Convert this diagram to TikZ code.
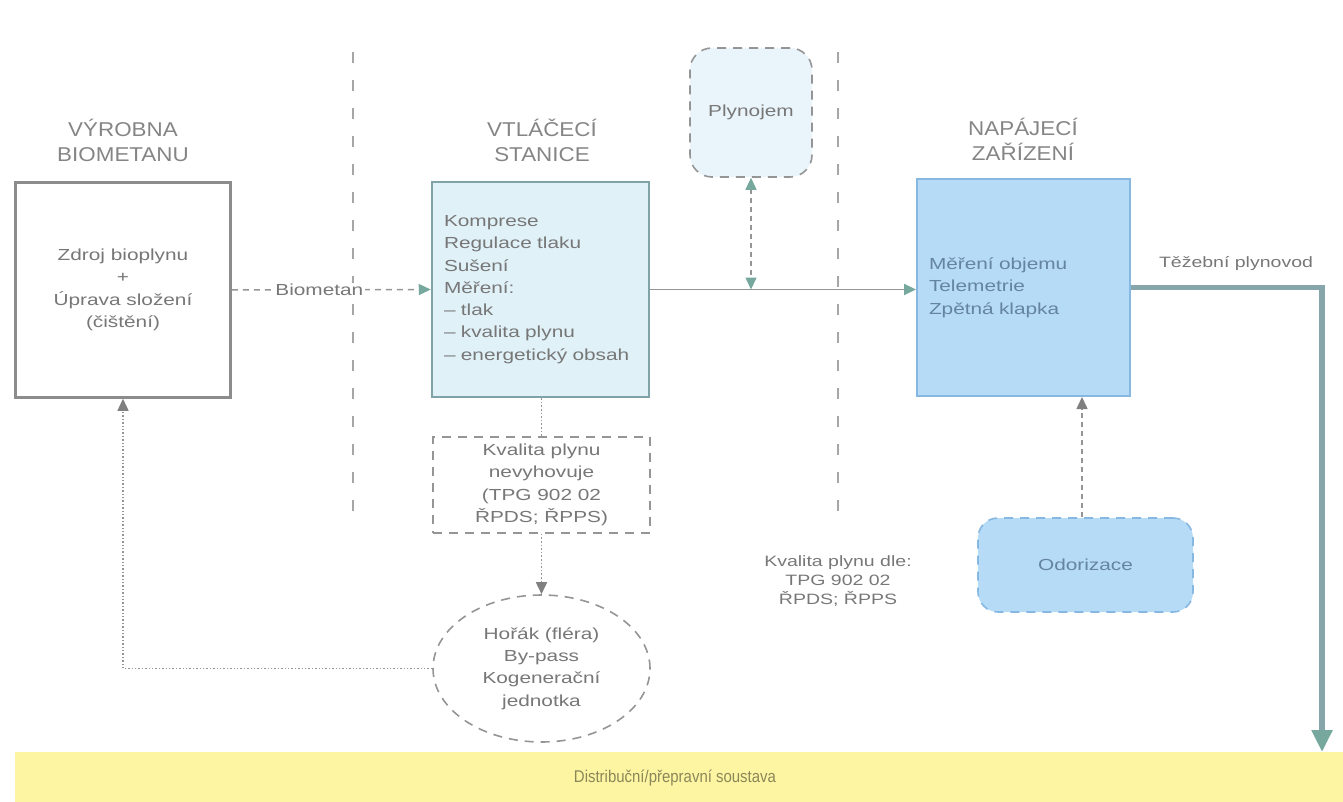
\documentclass[tikz,border=0pt]{standalone}
\usepackage{fontspec}
\setmainfont{Liberation Sans}
\newfontfamily\bodyfont{Liberation Sans}[FakeStretch=1.3]
\newfontfamily\titlefont{Liberation Sans}[FakeStretch=1.12]
\newfontfamily\barfont{Liberation Sans}[FakeStretch=0.88]
\usetikzlibrary{arrows.meta,shapes.geometric}
\definecolor{txt}{HTML}{777777}
\definecolor{titlegray}{HTML}{858585}
\definecolor{boxgray}{HTML}{8C8C8C}
\definecolor{midfill}{HTML}{E0F1F8}
\definecolor{midborder}{HTML}{7FA3A6}
\definecolor{napfill}{HTML}{B5DBF6}
\definecolor{napborder}{HTML}{86B8E2}
\definecolor{naptext}{HTML}{6584A4}
\definecolor{plynfill}{HTML}{E9F5FB}
\definecolor{sepgray}{HTML}{A6A6A6}
\definecolor{teal}{HTML}{76A89E}
\definecolor{linegray}{HTML}{959595}
\definecolor{thickline}{HTML}{86A6AC}
\definecolor{barfill}{HTML}{FDF5A2}
\definecolor{bartext}{HTML}{8A875A}
\begin{document}
\begin{tikzpicture}[x=1pt,y=-1pt,
  titletext/.style={font=\titlefont\fontsize{20}{25}\selectfont, text=titlegray, align=center},
  bodytext/.style={font=\bodyfont\fontsize{16}{22.3}\selectfont, text=txt},
  whitebox/.style={bodytext, draw=boxgray, line width=2.5pt, fill=white, minimum width=215pt, minimum height=215pt, inner sep=0pt, align=center},
  midbox/.style={bodytext, draw=midborder, line width=2.5pt, fill=midfill, text width=193pt, inner xsep=12pt, inner ysep=0pt, minimum height=215pt, align=left},
  napbox/.style={bodytext, text=naptext, draw=napborder, line width=2pt, fill=napfill, text width=189pt, inner xsep=12pt, inner ysep=0pt, minimum height=217pt, align=left},
  dashbox/.style={bodytext, draw=linegray, line width=1.6pt, dash pattern=on 9pt off 7pt, align=center, inner sep=0pt},
  sepline/.style={draw=sepgray, line width=1.5pt, dash pattern=on 11pt off 17pt},
  tealhead/.style={-{Triangle[length=12pt,width=11pt,color=teal]}},
  grayhead/.style={-{Triangle[length=12pt,width=11pt,color=gray]}}
]
\useasboundingbox (0,0) rectangle (1343,802);

% separators
\coordinate (s1t) at (353,52);
\coordinate (s1b) at (353,519);
\coordinate (s2t) at (838,52);
\coordinate (s2b) at (838,519);
\draw[sepline] (s1t) -- (s1b);
\draw[sepline] (s2t) -- (s2b);

% titles
\node[titletext] (t1) at (123,140) {VÝROBNA\\BIOMETANU};
\node[titletext] (t2) at (542,140) {VTLÁČECÍ\\STANICE};
\node[titletext] (t3) at (1023,139) {NAPÁJECÍ\\ZAŘÍZENÍ};

% boxes
\node[whitebox] (left) at (123,290) {Zdroj bioplynu\\+\\Úprava složení\\(čištění)};
\node[midbox] (mid) at (540.5,289.5) {Komprese\\Regulace tlaku\\Sušení\\Měření:\\– tlak\\– kvalita plynu\\– energetický obsah};
\node[napbox] (nap) at (1023.5,287.5) {Měření objemu\\Telemetrie\\Zpětná klapka};
\node[dashbox, fill=plynfill, rounded corners=22pt, minimum width=122pt, minimum height=129pt] (plyn) at (751,112.5) {Plynojem};
\node[dashbox, fill=napfill, draw=napborder, text=naptext, rounded corners=20pt, minimum width=215pt, minimum height=94pt] (odor) at (1085.5,565) {Odorizace};
\node[dashbox, fill=white, minimum width=217pt, minimum height=96pt] (kval) at (541.5,485) {Kvalita plynu\\nevyhovuje\\(TPG 902 02\\ŘPDS; ŘPPS)};
\node[dashbox, ellipse, fill=white, minimum width=217pt, minimum height=147pt] (horak) at (541.5,668.5) {Hořák (fléra)\\By-pass\\Kogenerační\\jednotka};

\node[bodytext, align=center, font=\bodyfont\fontsize{15}{19}\selectfont] (dle) at (838,581) {Kvalita plynu dle:\\TPG 902 02\\ŘPDS; ŘPPS};
\node[bodytext, font=\bodyfont\fontsize{15}{19}\selectfont] (tez) at (1236,264) {Těžební plynovod};

% bottom bar
\node[fill=barfill, draw=none, minimum width=1328pt, minimum height=50pt, inner sep=0pt, anchor=north west] (bar) at (15,752) {};
\node[font=\barfont\fontsize{17}{20}\selectfont, text=bartext] (bartxt) at (675,778) {Distribuční/přepravní soustava};

% connectors
\draw[linegray, line width=1.5pt, dash pattern=on 6pt off 5pt, tealhead] (left.east) -- node[pos=0.44, fill=white, bodytext, inner xsep=2pt, inner ysep=1pt] {Biometan} (mid.west);
\draw[linegray, line width=1.8pt, tealhead] (mid.east) -- (mid.east -| nap.west);
\draw[linegray, line width=1.5pt, dash pattern=on 5pt off 4pt,
  {Triangle[length=12pt,width=11pt,color=teal]}-{Triangle[length=12pt,width=11pt,color=teal]}] (plyn.south) -- (plyn.south |- mid.east);
\coordinate (tc) at (1322,0);
\draw[thickline, line width=5.5pt, -{Triangle[length=22pt,width=20pt,color=teal]}] (nap.east) -| (tc |- bar.north);
\draw[linegray, line width=1.5pt, dash pattern=on 5pt off 4pt, grayhead] (odor.north -| 1082,0) -- (1082,0 |- nap.south);
\draw[linegray, line width=1.6pt, dotted] (mid.south -| kval.north) -- (kval.north);
\draw[linegray, line width=1.6pt, dotted, grayhead] (kval.south) -- (horak.north);
\draw[linegray, line width=1.4pt, dotted, grayhead] (horak.west) -| (left.south);
\end{tikzpicture}
\end{document}
